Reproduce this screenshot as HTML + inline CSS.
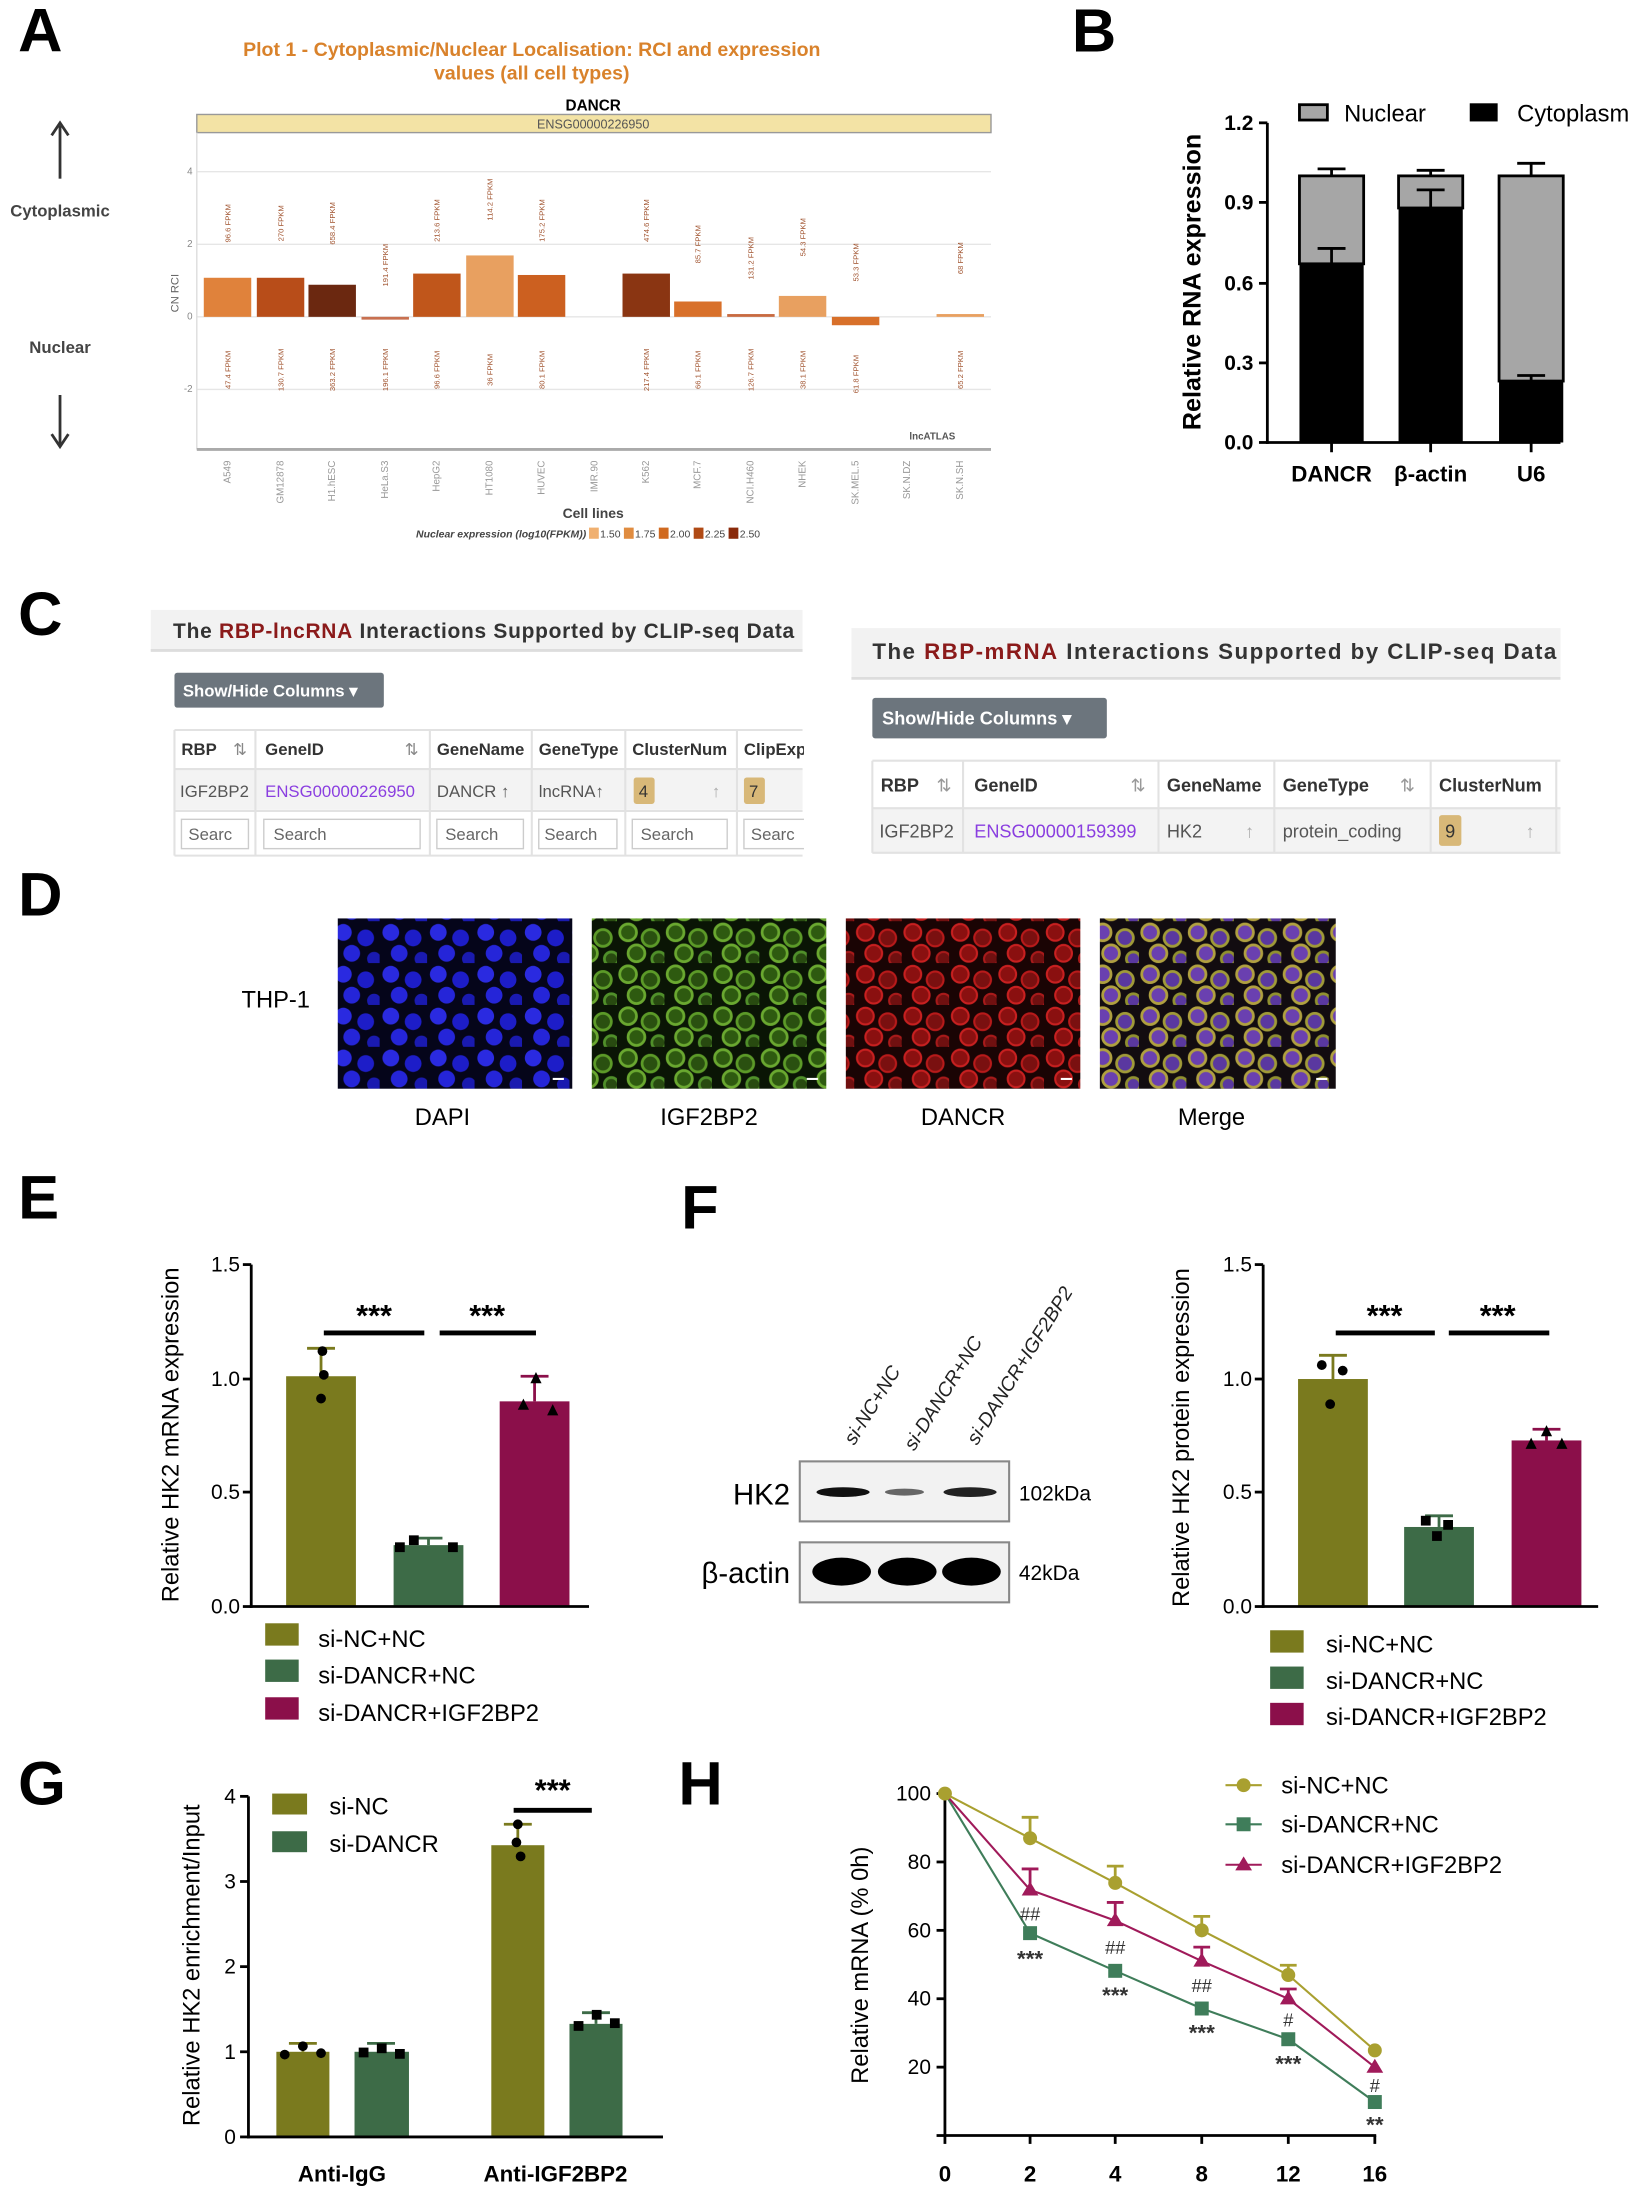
<!DOCTYPE html>
<html><head><meta charset="utf-8"><style>
html,body{margin:0;padding:0;background:#fff}
svg{display:block}
text{font-family:"Liberation Sans",sans-serif}
</style></head><body>
<svg width="1647" height="2195" viewBox="0 0 1180 1572.6" xmlns="http://www.w3.org/2000/svg">
<defs>
<pattern id="pb" width="34" height="30" patternUnits="userSpaceOnUse">
<rect width="34" height="30" fill="#05051a"/>
<circle cx="8" cy="8" r="6" fill="#2a2ae0"/><circle cx="24" cy="12" r="6" fill="#1d1dc8"/><circle cx="14" cy="23" r="6" fill="#2525d8"/><circle cx="30" cy="27" r="5" fill="#1a1ab0"/>
</pattern>
<pattern id="pg" width="34" height="30" patternUnits="userSpaceOnUse">
<rect width="34" height="30" fill="#0a1505"/>
<circle cx="8" cy="8" r="6" fill="#2e5a10" stroke="#6aa830" stroke-width="2"/><circle cx="24" cy="12" r="6" fill="#2a5010" stroke="#5c9a28" stroke-width="2"/><circle cx="14" cy="23" r="6" fill="#2e5a10" stroke="#6aa830" stroke-width="2"/><circle cx="30" cy="27" r="5" fill="#284a10" stroke="#50902a" stroke-width="2"/>
</pattern>
<pattern id="pr" width="34" height="30" patternUnits="userSpaceOnUse">
<rect width="34" height="30" fill="#1a0404"/>
<circle cx="8" cy="8" r="6" fill="#8a1010" stroke="#c82020" stroke-width="1.5"/><circle cx="24" cy="12" r="6" fill="#7a1010" stroke="#b81a1a" stroke-width="1.5"/><circle cx="14" cy="23" r="6" fill="#8a1010" stroke="#c82020" stroke-width="1.5"/><circle cx="30" cy="27" r="5" fill="#701010" stroke="#a81a1a" stroke-width="1.5"/>
</pattern>
<pattern id="pm" width="34" height="30" patternUnits="userSpaceOnUse">
<rect width="34" height="30" fill="#120c10"/>
<circle cx="8" cy="8" r="6" fill="#6a40b0" stroke="#b0a040" stroke-width="2"/><circle cx="24" cy="12" r="6" fill="#5a38a0" stroke="#a09a38" stroke-width="2"/><circle cx="14" cy="23" r="6" fill="#6a40b0" stroke="#b0a040" stroke-width="2"/><circle cx="30" cy="27" r="5" fill="#5a38a0" stroke="#909030" stroke-width="2"/>
</pattern>
</defs>

<!-- Panel letters -->
<g font-weight="bold" font-size="44" fill="#000">
<text x="13" y="37">A</text><text x="768" y="37">B</text><text x="13" y="455">C</text>
<text x="13" y="656">D</text><text x="13" y="873">E</text><text x="488" y="880">F</text>
<text x="13" y="1293">G</text><text x="486" y="1293">H</text>
</g>

<!-- Panel A -->
<g>
<text x="381" y="40" text-anchor="middle" font-size="14" font-weight="bold" fill="#d9822b">Plot 1 - Cytoplasmic/Nuclear Localisation: RCI and expression</text>
<text x="381" y="57" text-anchor="middle" font-size="14" font-weight="bold" fill="#d9822b">values (all cell types)</text>
<text x="425" y="79" text-anchor="middle" font-size="11" font-weight="bold">DANCR</text>
<rect x="141" y="82" width="569" height="13" fill="#f3e3a5" stroke="#999" stroke-width="1"/>
<text x="425" y="92" text-anchor="middle" font-size="9" fill="#555">ENSG00000226950</text>
<g stroke="#e6e6e6" stroke-width="1">
<line x1="141" y1="123" x2="710" y2="123"/><line x1="141" y1="175" x2="710" y2="175"/>
<line x1="141" y1="227" x2="710" y2="227"/><line x1="141" y1="279" x2="710" y2="279"/>
</g>
<line x1="141" y1="95" x2="141" y2="322" stroke="#ddd"/>
<line x1="141" y1="322" x2="710" y2="322" stroke="#aaa" stroke-width="2"/>
<g font-size="7" fill="#888" text-anchor="end"><text x="138" y="125">4</text><text x="138" y="177">2</text><text x="138" y="229">0</text><text x="138" y="281">-2</text></g>
<text transform="translate(128,210) rotate(-90)" font-size="8" fill="#666" text-anchor="middle">CN RCI</text>
<g>
<rect x="146" y="199" width="34" height="28" fill="#e0823b"/>
<rect x="184" y="199" width="34" height="28" fill="#b84d19"/>
<rect x="221" y="204" width="34" height="23" fill="#6b2810"/>
<rect x="259" y="227" width="34" height="2" fill="#c87050"/>
<rect x="296" y="196" width="34" height="31" fill="#c0561b"/>
<rect x="334" y="183" width="34" height="44" fill="#e8a060"/>
<rect x="371" y="197" width="34" height="30" fill="#cc6020"/>
<rect x="446" y="196" width="34" height="31" fill="#8a3512"/>
<rect x="483" y="216" width="34" height="11" fill="#d8702a"/>
<rect x="521" y="225" width="34" height="2" fill="#c86a40"/>
<rect x="558" y="212" width="34" height="15" fill="#e8a060"/>
<rect x="596" y="227" width="34" height="6" fill="#d8702a"/>
<rect x="671" y="225" width="34" height="2" fill="#e8a060"/>
</g>
<g font-size="5.5" fill="#a0522d" text-anchor="middle">
<text transform="translate(165,160) rotate(-90)">96.6 FPKM</text>
<text transform="translate(203,160) rotate(-90)">270 FPKM</text>
<text transform="translate(240,160) rotate(-90)">658.4 FPKM</text>
<text transform="translate(278,190) rotate(-90)">191.4 FPKM</text>
<text transform="translate(315,158) rotate(-90)">213.6 FPKM</text>
<text transform="translate(353,143) rotate(-90)">114.2 FPKM</text>
<text transform="translate(390,158) rotate(-90)">175.2 FPKM</text>
<text transform="translate(465,158) rotate(-90)">474.6 FPKM</text>
<text transform="translate(502,175) rotate(-90)">85.7 FPKM</text>
<text transform="translate(540,185) rotate(-90)">131.2 FPKM</text>
<text transform="translate(577,170) rotate(-90)">54.3 FPKM</text>
<text transform="translate(615,188) rotate(-90)">53.3 FPKM</text>
<text transform="translate(690,185) rotate(-90)">68 FPKM</text>
<text transform="translate(165,265) rotate(-90)">47.4 FPKM</text>
<text transform="translate(203,265) rotate(-90)">130.7 FPKM</text>
<text transform="translate(240,265) rotate(-90)">363.2 FPKM</text>
<text transform="translate(278,265) rotate(-90)">196.1 FPKM</text>
<text transform="translate(315,265) rotate(-90)">96.6 FPKM</text>
<text transform="translate(353,265) rotate(-90)">36 FPKM</text>
<text transform="translate(390,265) rotate(-90)">80.1 FPKM</text>
<text transform="translate(465,265) rotate(-90)">217.4 FPKM</text>
<text transform="translate(502,265) rotate(-90)">66.1 FPKM</text>
<text transform="translate(540,265) rotate(-90)">126.7 FPKM</text>
<text transform="translate(577,265) rotate(-90)">38.1 FPKM</text>
<text transform="translate(615,268) rotate(-90)">61.8 FPKM</text>
<text transform="translate(690,265) rotate(-90)">65.2 FPKM</text>
</g>
<text x="668" y="315" font-size="7" font-weight="bold" fill="#555" text-anchor="middle">lncATLAS</text>
<g font-size="7" fill="#999" text-anchor="end">
<text transform="translate(165,330) rotate(-90)">A549</text>
<text transform="translate(203,330) rotate(-90)">GM12878</text>
<text transform="translate(240,330) rotate(-90)">H1.hESC</text>
<text transform="translate(278,330) rotate(-90)">HeLa.S3</text>
<text transform="translate(315,330) rotate(-90)">HepG2</text>
<text transform="translate(353,330) rotate(-90)">HT1080</text>
<text transform="translate(390,330) rotate(-90)">HUVEC</text>
<text transform="translate(428,330) rotate(-90)">IMR.90</text>
<text transform="translate(465,330) rotate(-90)">K562</text>
<text transform="translate(502,330) rotate(-90)">MCF.7</text>
<text transform="translate(540,330) rotate(-90)">NCI.H460</text>
<text transform="translate(577,330) rotate(-90)">NHEK</text>
<text transform="translate(615,330) rotate(-90)">SK.MEL.5</text>
<text transform="translate(652,330) rotate(-90)">SK.N.DZ</text>
<text transform="translate(690,330) rotate(-90)">SK.N.SH</text>
</g>
<text x="425" y="371" font-size="10" font-weight="bold" fill="#444" text-anchor="middle">Cell lines</text>
<text x="420" y="385" font-size="7.5" font-style="italic" font-weight="bold" fill="#444" text-anchor="end">Nuclear expression (log10(FPKM))</text>
<g font-size="7.5" fill="#444">
<rect x="422" y="378" width="7" height="8" fill="#f0b070"/><text x="430" y="385">1.50</text>
<rect x="447" y="378" width="7" height="8" fill="#e08c40"/><text x="455" y="385">1.75</text>
<rect x="472" y="378" width="7" height="8" fill="#d06a20"/><text x="480" y="385">2.00</text>
<rect x="497" y="378" width="7" height="8" fill="#b04a15"/><text x="505" y="385">2.25</text>
<rect x="522" y="378" width="7" height="8" fill="#8a2a0a"/><text x="530" y="385">2.50</text>
</g>
<g stroke="#333" stroke-width="2" fill="none">
<line x1="43" y1="90" x2="43" y2="128"/><polyline points="37,97 43,88 49,97"/>
<line x1="43" y1="283" x2="43" y2="320"/><polyline points="37,311 43,320 49,311"/>
</g>
<text x="43" y="155" font-size="12" font-weight="bold" fill="#444" text-anchor="middle">Cytoplasmic</text>
<text x="43" y="253" font-size="12" font-weight="bold" fill="#444" text-anchor="middle">Nuclear</text>
</g>

<!-- Panel B -->
<g>
<rect x="931" y="126" width="46" height="63" fill="#a6a6a6" stroke="#000" stroke-width="2"/>
<rect x="931" y="189" width="46" height="128" fill="#000"/>
<rect x="1002" y="126" width="46" height="23" fill="#a6a6a6" stroke="#000" stroke-width="2"/>
<rect x="1002" y="149" width="46" height="168" fill="#000"/>
<rect x="1074" y="126" width="46" height="147" fill="#a6a6a6" stroke="#000" stroke-width="2"/>
<rect x="1074" y="273" width="46" height="44" fill="#000"/>
<g stroke="#000" stroke-width="2">
<line x1="954" y1="126" x2="954" y2="121"/><line x1="944" y1="121" x2="964" y2="121"/>
<line x1="954" y1="189" x2="954" y2="178"/><line x1="944" y1="178" x2="964" y2="178"/>
<line x1="1025" y1="126" x2="1025" y2="122"/><line x1="1015" y1="122" x2="1035" y2="122"/>
<line x1="1025" y1="149" x2="1025" y2="136"/><line x1="1015" y1="136" x2="1035" y2="136"/>
<line x1="1097" y1="126" x2="1097" y2="117"/><line x1="1087" y1="117" x2="1107" y2="117"/>
<line x1="1097" y1="273" x2="1097" y2="269"/><line x1="1087" y1="269" x2="1107" y2="269"/>
<line x1="908" y1="88" x2="908" y2="318"/><line x1="907" y1="317" x2="1118" y2="317"/>
<line x1="902" y1="88" x2="908" y2="88"/><line x1="902" y1="145" x2="908" y2="145"/><line x1="902" y1="203" x2="908" y2="203"/><line x1="902" y1="260" x2="908" y2="260"/><line x1="902" y1="317" x2="908" y2="317"/>
<line x1="954" y1="317" x2="954" y2="324"/><line x1="1025" y1="317" x2="1025" y2="324"/><line x1="1097" y1="317" x2="1097" y2="324"/>
</g>
<g font-size="15" font-weight="bold" text-anchor="end"><text x="898" y="93">1.2</text><text x="898" y="150">0.9</text><text x="898" y="208">0.6</text><text x="898" y="265">0.3</text><text x="898" y="322">0.0</text></g>
<text transform="translate(860,202) rotate(-90)" font-size="18" font-weight="bold" text-anchor="middle">Relative RNA expression</text>
<g font-size="16" font-weight="bold" text-anchor="middle"><text x="954" y="345">DANCR</text><text x="1025" y="345">β-actin</text><text x="1097" y="345">U6</text></g>
<rect x="931" y="75" width="20" height="11" fill="#a6a6a6" stroke="#000" stroke-width="2"/>
<text x="963" y="87" font-size="17">Nuclear</text>
<rect x="1053" y="74" width="20" height="13" fill="#000"/>
<text x="1087" y="87" font-size="17">Cytoplasm</text>
</g>

<!-- Panel C left -->
<g>
<rect x="108" y="437" width="467" height="29" fill="#f2f2f2"/>
<line x1="108" y1="466" x2="575" y2="466" stroke="#ddd" stroke-width="2"/>
<text x="124" y="457" font-size="15" font-weight="bold" fill="#333" textLength="445">The <tspan fill="#8b1a1a">RBP-lncRNA</tspan> Interactions Supported by CLIP-seq Data</text>
<rect x="125" y="482" width="150" height="25" rx="2" fill="#6c757d"/>
<text x="131" y="499" font-size="12" font-weight="bold" fill="#fff">Show/Hide Columns ▾</text>
<rect x="125" y="551" width="450" height="29" fill="#f3f3f3"/>
<g stroke="#e2e2e2" stroke-width="1.5">
<line x1="125" y1="523" x2="575" y2="523"/><line x1="125" y1="551" x2="575" y2="551"/><line x1="125" y1="581" x2="575" y2="581"/><line x1="125" y1="613" x2="575" y2="613"/>
<line x1="125" y1="523" x2="125" y2="613"/><line x1="183" y1="523" x2="183" y2="613"/><line x1="308" y1="523" x2="308" y2="613"/><line x1="381" y1="523" x2="381" y2="613"/><line x1="448" y1="523" x2="448" y2="613"/><line x1="528" y1="523" x2="528" y2="613"/>
</g>
<g font-size="12" font-weight="bold" fill="#333">
<text x="130" y="541">RBP</text><text x="190" y="541">GeneID</text><text x="313" y="541">GeneName</text><text x="386" y="541">GeneType</text><text x="453" y="541">ClusterNum</text><text x="533" y="541">ClipExp</text>
</g>
<g font-size="12" fill="#888"><text x="167" y="541">⇅</text><text x="290" y="541">⇅</text></g>
<g font-size="12" fill="#555">
<text x="129" y="571">IGF2BP2</text><text x="190" y="571" fill="#8a3ee0">ENSG00000226950</text><text x="313" y="571">DANCR ↑</text><text x="386" y="571">lncRNA↑</text><text x="510" y="571" fill="#aaa">↑</text>
</g>
<rect x="454" y="557" width="15" height="19" rx="2" fill="#d8b878"/><text x="461" y="571" font-size="12" text-anchor="middle" fill="#333">4</text>
<rect x="533" y="557" width="15" height="19" rx="2" fill="#d8b878"/><text x="540" y="571" font-size="12" text-anchor="middle" fill="#333">7</text>
<g fill="#fff" stroke="#ccc"><rect x="130" y="587" width="48" height="21"/><rect x="189" y="587" width="112" height="21"/><rect x="313" y="587" width="62" height="21"/><rect x="386" y="587" width="56" height="21"/><rect x="453" y="587" width="68" height="21"/><rect x="533" y="587" width="50" height="21"/></g>
<g font-size="12" fill="#666"><text x="135" y="602">Searc</text><text x="196" y="602">Search</text><text x="319" y="602">Search</text><text x="390" y="602">Search</text><text x="459" y="602">Search</text><text x="538" y="602">Searc</text></g>
<rect x="576" y="515" width="20" height="100" fill="#fff"/>
</g>

<!-- Panel C right -->
<g>
<rect x="610" y="450" width="508" height="35" fill="#f2f2f2"/>
<line x1="610" y1="486" x2="1118" y2="486" stroke="#ddd" stroke-width="2"/>
<text x="625" y="472" font-size="16" font-weight="bold" fill="#333" textLength="490">The <tspan fill="#8b1a1a">RBP-mRNA</tspan> Interactions Supported by CLIP-seq Data</text>
<rect x="625" y="500" width="168" height="29" rx="2" fill="#6c757d"/>
<text x="632" y="519" font-size="13" font-weight="bold" fill="#fff">Show/Hide Columns ▾</text>
<rect x="625" y="579" width="493" height="32" fill="#f3f3f3"/>
<g stroke="#e2e2e2" stroke-width="1.5">
<line x1="625" y1="545" x2="1118" y2="545"/><line x1="625" y1="579" x2="1118" y2="579"/><line x1="625" y1="611" x2="1118" y2="611"/>
<line x1="625" y1="545" x2="625" y2="611"/><line x1="690" y1="545" x2="690" y2="611"/><line x1="830" y1="545" x2="830" y2="611"/><line x1="913" y1="545" x2="913" y2="611"/><line x1="1025" y1="545" x2="1025" y2="611"/><line x1="1115" y1="545" x2="1115" y2="611"/>
</g>
<g font-size="13" font-weight="bold" fill="#333"><text x="631" y="567">RBP</text><text x="698" y="567">GeneID</text><text x="836" y="567">GeneName</text><text x="919" y="567">GeneType</text><text x="1031" y="567">ClusterNum</text></g>
<g font-size="13" fill="#999"><text x="671" y="567">⇅</text><text x="810" y="567">⇅</text><text x="1003" y="567">⇅</text></g>
<g font-size="13" fill="#555"><text x="630" y="600">IGF2BP2</text><text x="698" y="600" fill="#8a3ee0">ENSG00000159399</text><text x="836" y="600">HK2</text><text x="892" y="600" fill="#aaa">↑</text><text x="919" y="600">protein_coding</text><text x="1093" y="600" fill="#aaa">↑</text></g>
<rect x="1031" y="584" width="16" height="22" rx="2" fill="#d8b878"/><text x="1039" y="600" font-size="13" text-anchor="middle" fill="#333">9</text>
</g>

<!-- Panel D -->
<g>
<text x="173" y="722" font-size="17">THP-1</text>
<rect x="242" y="658" width="168" height="122" fill="url(#pb)"/>
<rect x="424" y="658" width="168" height="122" fill="url(#pg)"/>
<rect x="606" y="658" width="168" height="122" fill="url(#pr)"/>
<rect x="788" y="658" width="169" height="122" fill="url(#pm)"/>
<g stroke="#fff" stroke-width="1.5"><line x1="396" y1="773" x2="404" y2="773"/><line x1="578" y1="773" x2="586" y2="773"/><line x1="760" y1="773" x2="768" y2="773"/><line x1="943" y1="773" x2="951" y2="773"/></g>
<g font-size="17" text-anchor="middle"><text x="317" y="806">DAPI</text><text x="508" y="806">IGF2BP2</text><text x="690" y="806">DANCR</text><text x="868" y="806">Merge</text></g>
</g>

<!-- Panel E -->
<g>
<rect x="205" y="986" width="50" height="165" fill="#7a7a1e"/>
<rect x="282" y="1107" width="50" height="44" fill="#3d6b47"/>
<rect x="358" y="1004" width="50" height="147" fill="#8b0f4a"/>
<g stroke-width="2">
<line x1="230" y1="986" x2="230" y2="966" stroke="#7a7a1e"/><line x1="220" y1="966" x2="240" y2="966" stroke="#7a7a1e"/>
<line x1="307" y1="1107" x2="307" y2="1102" stroke="#3d6b47"/><line x1="297" y1="1102" x2="317" y2="1102" stroke="#3d6b47"/>
<line x1="383" y1="1004" x2="383" y2="986" stroke="#8b0f4a"/><line x1="373" y1="986" x2="393" y2="986" stroke="#8b0f4a"/>
</g>
<g fill="#000"><circle cx="231" cy="968" r="3.5"/><circle cx="232" cy="985" r="3.5"/><circle cx="230" cy="1002" r="3.5"/>
<rect x="283" y="1105" width="7" height="7"/><rect x="293" y="1100" width="7" height="7"/><rect x="321" y="1105" width="7" height="7"/>
<polygon points="375,1002 371,1010 379,1010"/><polygon points="384,983 380,991 388,991"/><polygon points="396,1006 392,1014 400,1014"/></g>
<g stroke="#000" stroke-width="2">
<line x1="180" y1="906" x2="180" y2="1152"/><line x1="179" y1="1151" x2="422" y2="1151"/>
<line x1="174" y1="906" x2="180" y2="906"/><line x1="174" y1="988" x2="180" y2="988"/><line x1="174" y1="1069" x2="180" y2="1069"/><line x1="174" y1="1151" x2="180" y2="1151"/>
</g>
<g stroke="#000" stroke-width="3.5"><line x1="232" y1="955" x2="304" y2="955"/><line x1="315" y1="955" x2="384" y2="955"/></g>
<g font-size="22" font-weight="bold" text-anchor="middle"><text x="268" y="950">***</text><text x="349" y="950">***</text></g>
<g font-size="15" text-anchor="end"><text x="172" y="911">1.5</text><text x="172" y="993">1.0</text><text x="172" y="1074">0.5</text><text x="172" y="1156">0.0</text></g>
<text transform="translate(128,1028) rotate(-90)" font-size="17" text-anchor="middle">Relative HK2 mRNA expression</text>
<rect x="190" y="1163" width="24" height="16" fill="#7a7a1e"/><text x="228" y="1180" font-size="17">si-NC+NC</text>
<rect x="190" y="1189" width="24" height="16" fill="#3d6b47"/><text x="228" y="1206" font-size="17">si-DANCR+NC</text>
<rect x="190" y="1216" width="24" height="16" fill="#8b0f4a"/><text x="228" y="1233" font-size="17">si-DANCR+IGF2BP2</text>
</g>

<!-- Panel F blot -->
<g>
<g font-size="14" font-style="italic" fill="#222">
<text transform="translate(612,1036) rotate(-58)">si-NC+NC</text>
<text transform="translate(655,1040) rotate(-58)">si-DANCR+NC</text>
<text transform="translate(700,1036) rotate(-58)">si-DANCR+IGF2BP2</text>
</g>
<rect x="573" y="1047" width="150" height="43" fill="#f2f2f2" stroke="#888" stroke-width="1.5"/>
<rect x="573" y="1105" width="150" height="43" fill="#f2f2f2" stroke="#888" stroke-width="1.5"/>
<ellipse cx="604" cy="1069" rx="19" ry="3.5" fill="#111"/>
<ellipse cx="648" cy="1069" rx="14" ry="2.5" fill="#666"/>
<ellipse cx="695" cy="1069" rx="19" ry="3.5" fill="#222"/>
<ellipse cx="603" cy="1126" rx="21" ry="10" fill="#000"/>
<ellipse cx="650" cy="1126" rx="21" ry="10" fill="#000"/>
<ellipse cx="696" cy="1126" rx="21" ry="10" fill="#000"/>
<text x="566" y="1078" font-size="21" text-anchor="end">HK2</text>
<text x="566" y="1134" font-size="21" text-anchor="end">β-actin</text>
<text x="730" y="1075" font-size="15">102kDa</text>
<text x="730" y="1132" font-size="15">42kDa</text>
</g>

<!-- Panel F chart -->
<g>
<rect x="930" y="988" width="50" height="163" fill="#7a7a1e"/>
<rect x="1006" y="1094" width="50" height="57" fill="#3d6b47"/>
<rect x="1083" y="1032" width="50" height="119" fill="#8b0f4a"/>
<g stroke-width="2">
<line x1="955" y1="988" x2="955" y2="971" stroke="#7a7a1e"/><line x1="945" y1="971" x2="965" y2="971" stroke="#7a7a1e"/>
<line x1="1031" y1="1094" x2="1031" y2="1086" stroke="#3d6b47"/><line x1="1021" y1="1086" x2="1041" y2="1086" stroke="#3d6b47"/>
<line x1="1108" y1="1032" x2="1108" y2="1024" stroke="#8b0f4a"/><line x1="1098" y1="1024" x2="1118" y2="1024" stroke="#8b0f4a"/>
</g>
<g fill="#000"><circle cx="947" cy="978" r="3.5"/><circle cx="962" cy="982" r="3.5"/><circle cx="953" cy="1006" r="3.5"/>
<rect x="1018" y="1086" width="7" height="7"/><rect x="1034" y="1089" width="7" height="7"/><rect x="1026" y="1097" width="7" height="7"/>
<polygon points="1097,1030 1093,1038 1101,1038"/><polygon points="1108,1021 1104,1029 1112,1029"/><polygon points="1119,1030 1115,1038 1123,1038"/></g>
<g stroke="#000" stroke-width="2">
<line x1="905" y1="906" x2="905" y2="1152"/><line x1="904" y1="1151" x2="1145" y2="1151"/>
<line x1="899" y1="906" x2="905" y2="906"/><line x1="899" y1="988" x2="905" y2="988"/><line x1="899" y1="1069" x2="905" y2="1069"/><line x1="899" y1="1151" x2="905" y2="1151"/>
</g>
<g stroke="#000" stroke-width="3.5"><line x1="957" y1="955" x2="1028" y2="955"/><line x1="1038" y1="955" x2="1110" y2="955"/></g>
<g font-size="22" font-weight="bold" text-anchor="middle"><text x="992" y="950">***</text><text x="1073" y="950">***</text></g>
<g font-size="15" text-anchor="end"><text x="897" y="911">1.5</text><text x="897" y="993">1.0</text><text x="897" y="1074">0.5</text><text x="897" y="1156">0.0</text></g>
<text transform="translate(852,1030) rotate(-90)" font-size="17" text-anchor="middle">Relative HK2 protein expression</text>
<rect x="910" y="1168" width="24" height="16" fill="#7a7a1e"/><text x="950" y="1184" font-size="17">si-NC+NC</text>
<rect x="910" y="1194" width="24" height="16" fill="#3d6b47"/><text x="950" y="1210" font-size="17">si-DANCR+NC</text>
<rect x="910" y="1220" width="24" height="16" fill="#8b0f4a"/><text x="950" y="1236" font-size="17">si-DANCR+IGF2BP2</text>
</g>

<!-- Panel G -->
<g>
<rect x="198" y="1470" width="38" height="61" fill="#7a7a1e"/>
<rect x="254" y="1470" width="39" height="61" fill="#3d6b47"/>
<rect x="352" y="1322" width="38" height="209" fill="#7a7a1e"/>
<rect x="408" y="1450" width="38" height="81" fill="#3d6b47"/>
<g stroke-width="2">
<line x1="217" y1="1470" x2="217" y2="1464" stroke="#7a7a1e"/><line x1="207" y1="1464" x2="227" y2="1464" stroke="#7a7a1e"/>
<line x1="273" y1="1470" x2="273" y2="1464" stroke="#3d6b47"/><line x1="263" y1="1464" x2="283" y2="1464" stroke="#3d6b47"/>
<line x1="371" y1="1322" x2="371" y2="1307" stroke="#7a7a1e"/><line x1="361" y1="1307" x2="381" y2="1307" stroke="#7a7a1e"/>
<line x1="427" y1="1450" x2="427" y2="1442" stroke="#3d6b47"/><line x1="417" y1="1442" x2="437" y2="1442" stroke="#3d6b47"/>
</g>
<g fill="#000"><circle cx="204" cy="1472" r="3.5"/><circle cx="217" cy="1466" r="3.5"/><circle cx="230" cy="1471" r="3.5"/>
<rect x="257" y="1467" width="7" height="7"/><rect x="270" y="1464" width="7" height="7"/><rect x="283" y="1468" width="7" height="7"/>
<circle cx="371" cy="1307" r="3.5"/><circle cx="370" cy="1320" r="3.5"/><circle cx="373" cy="1330" r="3.5"/>
<rect x="411" y="1448" width="7" height="7"/><rect x="424" y="1440" width="7" height="7"/><rect x="437" y="1446" width="7" height="7"/></g>
<g stroke="#000" stroke-width="2">
<line x1="178" y1="1287" x2="178" y2="1532"/><line x1="177" y1="1531" x2="475" y2="1531"/>
<line x1="172" y1="1287" x2="178" y2="1287"/><line x1="172" y1="1348" x2="178" y2="1348"/><line x1="172" y1="1409" x2="178" y2="1409"/><line x1="172" y1="1470" x2="178" y2="1470"/><line x1="172" y1="1531" x2="178" y2="1531"/>
</g>
<line x1="368" y1="1297" x2="424" y2="1297" stroke="#000" stroke-width="3.5"/>
<text x="396" y="1290" font-size="22" font-weight="bold" text-anchor="middle">***</text>
<g font-size="15" text-anchor="end"><text x="169" y="1292">4</text><text x="169" y="1353">3</text><text x="169" y="1414">2</text><text x="169" y="1475">1</text><text x="169" y="1536">0</text></g>
<text transform="translate(143,1408) rotate(-90)" font-size="17" text-anchor="middle">Relative HK2 enrichment/Input</text>
<g font-size="16" font-weight="bold" text-anchor="middle"><text x="245" y="1563">Anti-IgG</text><text x="398" y="1563">Anti-IGF2BP2</text></g>
<rect x="195" y="1285" width="25" height="15" fill="#7a7a1e"/><text x="236" y="1300" font-size="17">si-NC</text>
<rect x="195" y="1312" width="25" height="15" fill="#3d6b47"/><text x="236" y="1327" font-size="17">si-DANCR</text>
</g>

<!-- Panel H -->
<g>
<g stroke="#000" stroke-width="2">
<line x1="677" y1="1285" x2="677" y2="1531"/><line x1="676" y1="1530" x2="986" y2="1530"/>
<line x1="671" y1="1285" x2="677" y2="1285"/><line x1="671" y1="1334" x2="677" y2="1334"/><line x1="671" y1="1383" x2="677" y2="1383"/><line x1="671" y1="1432" x2="677" y2="1432"/><line x1="671" y1="1481" x2="677" y2="1481"/><line x1="671" y1="1530" x2="677" y2="1530"/>
<line x1="677" y1="1530" x2="677" y2="1536"/><line x1="738" y1="1530" x2="738" y2="1536"/><line x1="799" y1="1530" x2="799" y2="1536"/><line x1="861" y1="1530" x2="861" y2="1536"/><line x1="923" y1="1530" x2="923" y2="1536"/><line x1="985" y1="1530" x2="985" y2="1536"/>
</g>
<g font-size="15" text-anchor="end"><text x="667" y="1290">100</text><text x="667" y="1339">80</text><text x="667" y="1388">60</text><text x="667" y="1437">40</text><text x="667" y="1486">20</text></g>
<g font-size="16" font-weight="bold" text-anchor="middle"><text x="677" y="1563">0</text><text x="738" y="1563">2</text><text x="799" y="1563">4</text><text x="861" y="1563">8</text><text x="923" y="1563">12</text><text x="985" y="1563">16</text></g>
<text transform="translate(622,1408) rotate(-90)" font-size="17" text-anchor="middle">Relative mRNA (% 0h)</text>
<g stroke="#a9a030" stroke-width="2">
<line x1="738" y1="1317" x2="738" y2="1302"/><line x1="732" y1="1302" x2="744" y2="1302"/>
<line x1="799" y1="1349" x2="799" y2="1337"/><line x1="793" y1="1337" x2="805" y2="1337"/>
<line x1="861" y1="1383" x2="861" y2="1373"/><line x1="855" y1="1373" x2="867" y2="1373"/>
<line x1="923" y1="1415" x2="923" y2="1408"/><line x1="917" y1="1408" x2="929" y2="1408"/>
</g>
<g stroke="#a01a5a" stroke-width="2">
<line x1="738" y1="1354" x2="738" y2="1339"/><line x1="732" y1="1339" x2="744" y2="1339"/>
<line x1="799" y1="1376" x2="799" y2="1363"/><line x1="793" y1="1363" x2="805" y2="1363"/>
<line x1="861" y1="1405" x2="861" y2="1395"/><line x1="855" y1="1395" x2="867" y2="1395"/>
<line x1="923" y1="1432" x2="923" y2="1425"/><line x1="917" y1="1425" x2="929" y2="1425"/>
</g>
<polyline points="677,1285 738,1317 799,1349 861,1383 923,1415 985,1469" fill="none" stroke="#a9a030" stroke-width="1.5"/>
<polyline points="677,1285 738,1385 799,1412 861,1439 923,1461 985,1506" fill="none" stroke="#3f7d5a" stroke-width="1.5"/>
<polyline points="677,1285 738,1354 799,1376 861,1405 923,1432 985,1481" fill="none" stroke="#a01a5a" stroke-width="1.5"/>
<g fill="#a9a030"><circle cx="677" cy="1285" r="5"/><circle cx="738" cy="1317" r="5"/><circle cx="799" cy="1349" r="5"/><circle cx="861" cy="1383" r="5"/><circle cx="923" cy="1415" r="5"/><circle cx="985" cy="1469" r="5"/></g>
<g fill="#3f7d5a"><rect x="733" y="1380" width="10" height="10"/><rect x="794" y="1407" width="10" height="10"/><rect x="856" y="1434" width="10" height="10"/><rect x="918" y="1456" width="10" height="10"/><rect x="980" y="1501" width="10" height="10"/></g>
<g fill="#a01a5a"><polygon points="738,1348 732,1358 744,1358"/><polygon points="799,1370 793,1380 805,1380"/><polygon points="861,1399 855,1409 867,1409"/><polygon points="923,1426 917,1436 929,1436"/><polygon points="985,1475 979,1485 991,1485"/></g>
<g font-size="13" text-anchor="middle" fill="#333">
<text x="738" y="1376">##</text><text x="738" y="1409" font-size="16" font-weight="bold">***</text>
<text x="799" y="1400">##</text><text x="799" y="1435" font-size="16" font-weight="bold">***</text>
<text x="861" y="1427">##</text><text x="861" y="1462" font-size="16" font-weight="bold">***</text>
<text x="923" y="1452">#</text><text x="923" y="1484" font-size="16" font-weight="bold">***</text>
<text x="985" y="1499">#</text><text x="985" y="1528" font-size="16" font-weight="bold">**</text>
</g>
<line x1="878" y1="1279" x2="904" y2="1279" stroke="#a9a030" stroke-width="1.5"/><circle cx="891" cy="1279" r="5" fill="#a9a030"/>
<text x="918" y="1285" font-size="17">si-NC+NC</text>
<line x1="878" y1="1307" x2="904" y2="1307" stroke="#3f7d5a" stroke-width="1.5"/><rect x="886" y="1302" width="10" height="10" fill="#3f7d5a"/>
<text x="918" y="1313" font-size="17">si-DANCR+NC</text>
<line x1="878" y1="1336" x2="904" y2="1336" stroke="#a01a5a" stroke-width="1.5"/><polygon points="891,1330 885,1340 897,1340" fill="#a01a5a"/>
<text x="918" y="1342" font-size="17">si-DANCR+IGF2BP2</text>
</g>
</svg>
</body></html>
